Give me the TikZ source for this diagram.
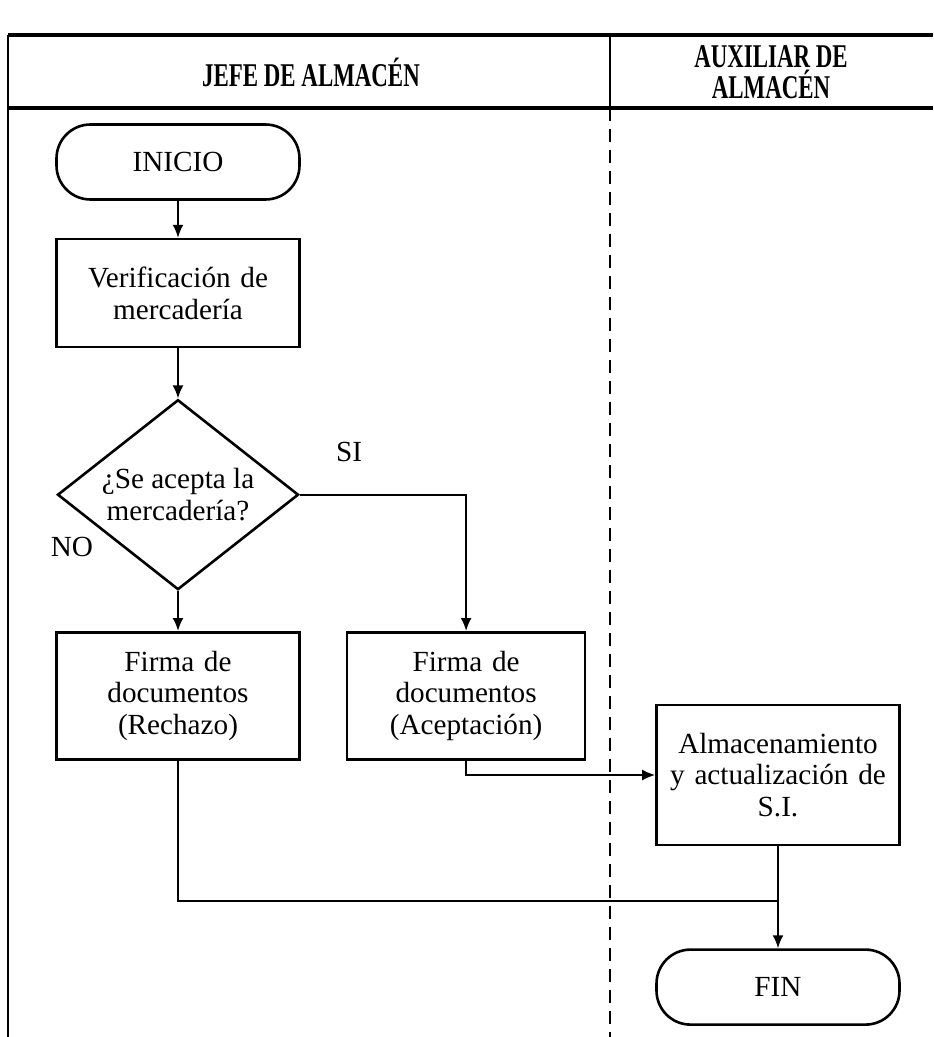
\documentclass[tikz,border=0pt]{standalone}
\usepackage{fontspec}
\setmainfont{Liberation Serif}
\usetikzlibrary{shapes.geometric, arrows.meta, positioning, calc}

\newcommand{\narrow}[1]{\scalebox{0.69}[1]{#1}}

\begin{document}
\begin{tikzpicture}[
    x=0.5pt, y=-0.5pt,
    font=\fontsize{14.6}{15.9}\selectfont,
    process/.style={rectangle, draw, line width=1.3pt, text width=114pt, align=center, minimum width=121.5pt},
    terminal/.style={rectangle, rounded corners=17pt, draw, line width=1.3pt, minimum width=121.5pt, minimum height=37.5pt},
    decision/.style={diamond, draw, line width=1.3pt, aspect=1.27, inner sep=0pt, minimum width=120.5pt, minimum height=95pt, align=center},
    header/.style={font=\fontsize{16.6}{15.5}\selectfont\bfseries, align=center},
    flow/.style={-{Latex[length=6.5pt, width=5.5pt]}, line width=1pt},
    lane/.style={line width=2pt},
    node distance=18.5pt
]
\useasboundingbox (0,0) rectangle (933,1037);

% swimlanes
\draw[lane] (8,35) -- (933,35);
\draw[lane] (8,108) -- (933,108);
\draw[line width=1pt] (8,35) -- (8,1037);
\draw[line width=1pt] (610,35) -- (610,108);
\draw[line width=1pt, dash pattern=on 6.5pt off 4pt] (610,108) -- (610,1037);
\node [header] (jefe) at (311,72) {\narrow{JEFE DE ALMACÉN}};
\node [header] (aux) at (771,72) {\narrow{AUXILIAR DE}\\\narrow{ALMACÉN}};

% flow
\node [terminal] (inicio) at (178,162) {INICIO};
\node [process, minimum height=54pt, below=of inicio] (verif) {Verificación de\\mercadería};
\node [decision, below=25pt of verif] (acepta) {¿Se acepta la\\mercadería?};
\node [process, minimum height=63.5pt, below=20pt of acepta] (rechazo) {Firma de\\documentos\\(Rechazo)};
\node [process, minimum height=63.5pt, minimum width=119pt, text width=112pt, right=22.5pt of rechazo] (aceptacion) {Firma de\\documentos\\(Aceptación)};
\node [process, minimum height=70pt] (almacen) at (778,775) {Almacenamiento\\y actualización de\\S.I.};
\node [terminal, below=51pt of almacen] (fin) {FIN};
\node (si) at (349,452) {SI};
\node (no) at (72,547) {NO};
\coordinate (union) at ($(almacen.south)+(0,55)$);

\draw [flow] (inicio) -- (verif);
\draw [flow] (verif) -- (acepta);
\draw [flow] (acepta) -- (rechazo);
\draw [flow] (acepta.east) -| (aceptacion.north);
\draw [flow] (aceptacion.south) |- (almacen.west);
\draw [line width=1pt] (rechazo.south) |- (union);
\draw [flow] (almacen) -- (fin);
\end{tikzpicture}
\end{document}
